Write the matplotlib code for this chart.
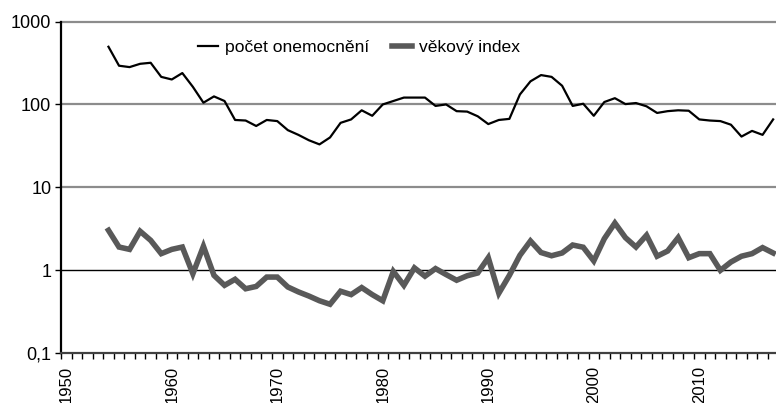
import numpy as np
import matplotlib
matplotlib.use("Agg")
import matplotlib.pyplot as plt
from matplotlib.ticker import FixedLocator, FixedFormatter

plt.rcParams["font.family"] = ["Liberation Sans", "DejaVu Sans"]

years = list(range(1954, 2018))

# počet onemocnění (cases)
cases = [
    496, 293, 282, 309, 318, 215, 200, 239, 163, 105,
    125, 110, 65, 64, 55, 65, 63, 49, 43, 37,
    33, 40, 60, 66, 85, 73, 100, 110, 121, 121,
    121, 96, 100, 83, 82, 72, 58, 65, 67, 132,
    190, 226, 215, 168, 96, 102, 73, 107, 119, 101,
    104, 95, 79, 83, 85, 84, 66, 64, 63, 57,
    41, 48, 43, 66,
]

# věkový index (age index)
age_index = [
    3.04, 1.91, 1.79, 2.96, 2.30, 1.59, 1.79, 1.91, 0.91, 1.95,
    0.87, 0.66, 0.78, 0.60, 0.64, 0.83, 0.83, 0.63, 0.55, 0.49,
    0.43, 0.39, 0.56, 0.51, 0.62, 0.51, 0.43, 0.97, 0.66, 1.07,
    0.85, 1.05, 0.89, 0.76, 0.86, 0.93, 1.42, 0.53, 0.87, 1.52,
    2.26, 1.64, 1.50, 1.62, 2.02, 1.90, 1.30, 2.41, 3.72, 2.48,
    1.91, 2.65, 1.48, 1.71, 2.48, 1.42, 1.59, 1.59, 1.00, 1.26,
    1.48, 1.59, 1.88, 1.62,
]

y_ticks = [0.1, 1, 10, 100, 1000]
y_labels = ["0,1", "1", "10", "100", "1000"]
x_label_years = [1950, 1960, 1970, 1980, 1990, 2000, 2010]

W, H = 776, 403
fig = plt.figure(figsize=(W / 100, H / 100), dpi=100)
left, right, top, bottom = 61, 778.4, 21.5, 353.3
ax = fig.add_axes([left / W, 1 - bottom / H, (right - left) / W, (bottom - top) / H])

ax.set_yscale("log")
ax.set_ylim(0.1, 1000)
ax.set_xlim(1949.5, 2017.5)

# grid lines: gray, except the one at 1 which is black
for v in [10, 100, 1000]:
    ax.axhline(v, color="#8c8c8c", lw=1.6, zorder=1, clip_on=False)
ax.axhline(1, color="black", lw=1.0, zorder=1)

ax.plot(years, cases, color="black", lw=1.6, label="počet onemocnění", zorder=3)
ax.plot(years, age_index, color="#595959", lw=4.0, label="věkový index",
        solid_joinstyle="miter", zorder=2)

for s in ["top", "right"]:
    ax.spines[s].set_visible(False)
ax.spines["left"].set_linewidth(1.6)
ax.spines["bottom"].set_linewidth(1.6)
ax.spines["bottom"].set_color("#404040")

ax.yaxis.set_major_locator(FixedLocator(y_ticks))
ax.yaxis.set_major_formatter(FixedFormatter(y_labels))
ax.yaxis.set_minor_locator(FixedLocator([]))
ax.tick_params(axis="y", which="major", length=4, width=1, labelsize=13, pad=3)

ax.xaxis.set_major_locator(FixedLocator(x_label_years))
ax.xaxis.set_major_formatter(FixedFormatter([str(y) for y in x_label_years]))
ax.xaxis.set_minor_locator(FixedLocator(np.arange(1949.5, 2018, 1)))
ax.tick_params(axis="x", which="major", length=0, labelsize=12, pad=9, rotation=90)
ax.tick_params(axis="x", which="minor", length=4, width=1)

ax.legend(loc="center left", bbox_to_anchor=(0.191, 0.923), ncol=2, frameon=False,
          fontsize=12.6, handlelength=1.15, handletextpad=0.4, columnspacing=1.3,
          borderpad=0, borderaxespad=0)

fig.savefig("out.png", dpi=100)
